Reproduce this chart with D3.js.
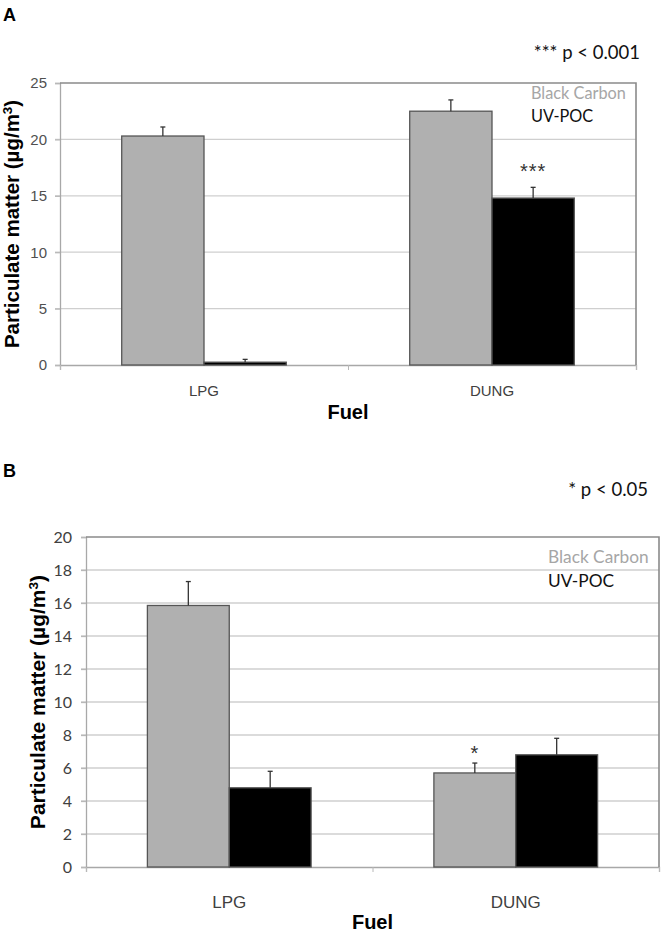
<!DOCTYPE html>
<html><head><meta charset="utf-8">
<script src="https://cdn.jsdelivr.net/npm/d3@7/dist/d3.min.js"></script>
<style>body{margin:0;background:#fff}svg{display:block}</style>
</head><body>
<svg id="c" width="663" height="932"></svg>
<script>
const fuels = ["LPG", "DUNG"];
const seriesNames = ["Black Carbon", "UV-POC"];
// Panel A
const aBlackCarbon = [20.3, 22.5];
const aBlackCarbonErr = [0.8, 1.0];
const aUVPOC = [0.25, 14.8];
const aUVPOCErr = [0.25, 0.95];
const aTicks = [0, 5, 10, 15, 20, 25];
const aSig = [["", ""], ["", "***"]];
// Panel B
const bBlackCarbon = [15.85, 5.7];
const bBlackCarbonErr = [1.45, 0.6];
const bUVPOC = [4.8, 6.8];
const bUVPOCErr = [1.0, 1.0];
const bTicks = [0, 2, 4, 6, 8, 10, 12, 14, 16, 18, 20];
const bSig = [["", ""], ["*", ""]];

const svg = d3.select("#c");
const colors = ["#b0b0b0", "#000000"];

function panel(o) {
  const g = svg.append("g");
  const y = d3.scaleLinear().domain([0, o.ymax]).range([o.y1, o.y0]);
  const x = d3.scaleBand().domain(fuels).range([o.x0, o.x1]).padding(0);
  const xs = d3.scaleBand().domain(seriesNames).range([0, x.bandwidth()]).paddingInner(0).paddingOuter(0.75);

  // gridlines
  g.append("g").selectAll("line").data(o.ticks.filter(t => t > 0 && t < o.ymax)).join("line")
    .attr("x1", o.x0 - 5).attr("x2", o.x1).attr("y1", d => y(d)).attr("y2", d => y(d))
    .attr("stroke", "#cfcfcf").attr("stroke-width", 1.3);
  // y axis
  const ya = d3.axisLeft(y).tickValues(o.ticks).tickSize(5).tickPadding(o.tickPad);
  const yg = g.append("g").attr("transform", `translate(${o.x0},0)`).call(ya);
  yg.select(".domain").attr("stroke", "#a8a8a8").attr("stroke-width", 1.3);
  yg.selectAll(".tick line").attr("stroke", "#b8b8b8").attr("stroke-width", 1.3);
  yg.selectAll(".tick text").attr("font-family", o.tickFont).attr("font-size", o.tickSize).attr("fill", o.tickColor);
  // x axis
  const xa = d3.axisBottom(d3.scaleLinear().domain([0, 2]).range([o.x0, o.x1])).tickValues([0, 1, 2]).tickSize(5).tickFormat("");
  const xg = g.append("g").attr("transform", `translate(0,${o.y1})`).call(xa);
  xg.select(".domain").attr("stroke", "#a8a8a8").attr("stroke-width", 1.3);
  xg.selectAll(".tick line").attr("stroke", "#b8b8b8");
  // top & right border
  g.append("path").attr("d", `M${o.x0},${o.y0}H${o.x1}V${o.y1}`).attr("fill", "none").attr("stroke", "#8a8a8a").attr("stroke-width", 1.6);

  const rows = [];
  fuels.forEach((f, i) => {
    o.series.forEach((s, j) => rows.push({ f, s: seriesNames[j], v: s.v[i], e: s.e[i], c: colors[j], sig: o.sig[i][j] }));
  });
  const bars = g.append("g");
  bars.selectAll("rect").data(rows).join("rect")
    .attr("x", d => x(d.f) + xs(d.s)).attr("width", xs.bandwidth())
    .attr("y", d => y(d.v)).attr("height", d => y(0) - y(d.v))
    .attr("fill", d => d.c).attr("stroke", "#555").attr("stroke-width", 1.3);
  // error bars
  const eb = g.append("g").attr("stroke", "#333").attr("stroke-width", 1.3);
  rows.forEach(d => {
    const cx = x(d.f) + xs(d.s) + xs.bandwidth() / 2;
    eb.append("line").attr("x1", cx).attr("x2", cx).attr("y1", y(d.v)).attr("y2", y(d.v + d.e));
    eb.append("line").attr("x1", cx - 2.5).attr("x2", cx + 2.5).attr("y1", y(d.v + d.e)).attr("y2", y(d.v + d.e));
  });
  // significance
  g.append("g").selectAll("text").data(rows.filter(d => d.sig)).join("text")
    .attr("x", d => x(d.f) + xs(d.s) + xs.bandwidth() / 2)
    .attr("y", d => y(d.v + d.e) - o.sigGap)
    .attr("text-anchor", "middle").attr("font-family", "Liberation Sans, Arial, sans-serif").attr("font-size", 20)
    .attr("letter-spacing", 1).attr("fill", "#333").text(d => d.sig);
  // x category labels
  g.append("g").selectAll("text").data(fuels).join("text")
    .attr("x", d => x(d) + x.bandwidth() / 2).attr("y", o.catY)
    .attr("text-anchor", "middle").attr("font-family", "Liberation Sans, Arial, sans-serif")
    .attr("font-size", o.catSize).attr("fill", "#404040").text(d => d);
  // x title
  g.append("text").attr("x", (o.x0 + o.x1) / 2).attr("y", o.fuelY).attr("text-anchor", "middle")
    .attr("font-family", "Liberation Sans, Arial, sans-serif").attr("font-weight", "bold")
    .attr("font-size", 20).attr("fill", "#000").text("Fuel");
  // y title
  const yt = g.append("text").attr("transform", `translate(${o.ytX},${(o.y0 + o.y1) / 2}) rotate(-90)`)
    .attr("text-anchor", "middle").attr("font-family", "Liberation Sans, Arial, sans-serif")
    .attr("font-weight", "bold").attr("font-size", o.ytSize).attr("fill", "#000");
  yt.append("tspan").text("Particulate matter (µg/m");
  yt.append("tspan").attr("baseline-shift", "super").attr("font-size", o.ytSize * 0.65).text("3");
  yt.append("tspan").text(")");
  // legend
  seriesNames.forEach((s, j) => {
    g.append("text").attr("x", o.legX).attr("y", o.legY + j * o.legGap)
      .attr("font-family", "Lato, sans-serif").attr("font-size", o.legSize)
      .attr("fill", j === 0 ? "#a6a6a6" : "#111").text(s);
  });
  // panel letter & p-value
  g.append("text").attr("x", 3).attr("y", o.letterY).attr("font-family", "Liberation Sans, Arial, sans-serif")
    .attr("font-weight", "bold").attr("font-size", 18).text(o.letter);
  g.append("text").attr("x", o.pX).attr("y", o.pY).attr("text-anchor", "end")
    .attr("font-family", "Lato, sans-serif").attr("font-size", 18.5).attr("fill", "#111").text(o.pText);
}

panel({
  letter: "A", letterY: 21, pText: "*** p < 0.001", pX: 640, pY: 59,
  x0: 60, x1: 636, y0: 83, y1: 365, ymax: 25, ticks: aTicks,
  series: [{ v: aBlackCarbon, e: aBlackCarbonErr }, { v: aUVPOC, e: aUVPOCErr }], sig: aSig, sigGap: 9,
  tickFont: "Liberation Sans, Arial, sans-serif", tickSize: 15, tickColor: "#505050", tickPad: 8,
  catY: 396, catSize: 15, fuelY: 419, ytX: 19, ytSize: 20.5,
  legX: 531, legY: 99, legGap: 22.5, legSize: 16.3
});
panel({
  letter: "B", letterY: 477, pText: "* p < 0.05", pX: 648, pY: 496,
  x0: 86, x1: 659, y0: 537, y1: 867, ymax: 20, ticks: bTicks,
  series: [{ v: bBlackCarbon, e: bBlackCarbonErr }, { v: bUVPOC, e: bUVPOCErr }], sig: bSig, sigGap: 3,
  tickFont: "Lato, sans-serif", tickSize: 16, tickColor: "#404040", tickPad: 9,
  catY: 908, catSize: 17, fuelY: 929, ytX: 45, ytSize: 21,
  legX: 548, legY: 563, legGap: 24, legSize: 17.3
});
</script>
</body></html>
